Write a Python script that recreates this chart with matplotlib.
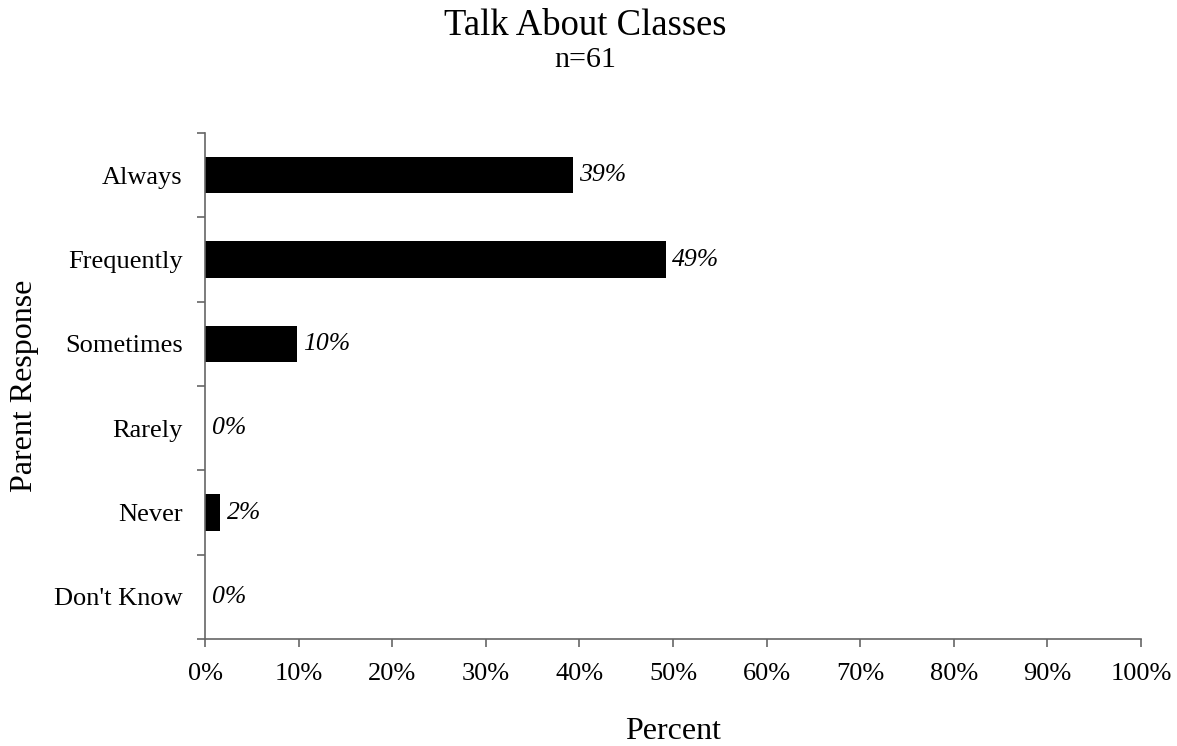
import matplotlib
matplotlib.use("Agg")
from matplotlib import pyplot as plt
import numpy as np

respostas = ["Always", "Frequently", "Sometimes", "Rarely", "Never", "Don't Know"]
percentuais = [39.3, 49.2, 9.8, 0.0, 1.6, 0.0]
rotulos = ["39%", "49%", "10%", "0%", "2%", "0%"]
ticks_x = list(range(0, 101, 10))

plt.rcParams['font.family'] = ['Liberation Serif', 'DejaVu Serif']

cinza = "#666666"

fig = plt.figure(figsize=(11.77, 7.46), dpi=100)
ax = fig.add_axes([0.1742, 0.1434, 0.7952, 0.6783])

pos = np.arange(len(respostas))
ax.barh(pos, percentuais, height=0.43, color="black")

# rotulos em italico logo depois do fim de cada barra
for p, v, r in zip(pos, percentuais, rotulos):
    ax.text(v + 0.7, p, r, va="center", ha="left", style="italic", fontsize=18.5)

ax.set_xlim(0, 100)
ax.set_ylim(len(respostas) - 0.5, -0.5)
ax.set_xticks(ticks_x)
ax.set_xticklabels([f"{t}%" for t in ticks_x], fontsize=19)
ax.set_yticks(pos)
ax.set_yticklabels(respostas, fontsize=19)
ax.tick_params(axis="y", which="major", length=0, pad=16)
ax.set_yticks(np.arange(-0.5, len(respostas)), minor=True)
ax.tick_params(axis="y", which="minor", length=5.5, color=cinza, width=1.2)
ax.tick_params(axis="x", length=5.5, color=cinza, width=1.2, pad=11.5)

for lado in ["top", "right"]:
    ax.spines[lado].set_visible(False)
for lado in ["left", "bottom"]:
    ax.spines[lado].set_color(cinza)
    ax.spines[lado].set_linewidth(1.2)

fig.text(0.5718, 0.0094, "Percent", ha="center", va="baseline", fontsize=23)
fig.text(0.0212, 0.4826, "Parent Response", ha="center", va="center",
         rotation=90, fontsize=23)

fig.text(0.497, 0.9531, "Talk About Classes", ha="center", va="baseline", fontsize=26.4)
fig.text(0.497, 0.9102, "n=61", ha="center", va="baseline", fontsize=21.6)

plt.savefig("out.png", dpi=100)
